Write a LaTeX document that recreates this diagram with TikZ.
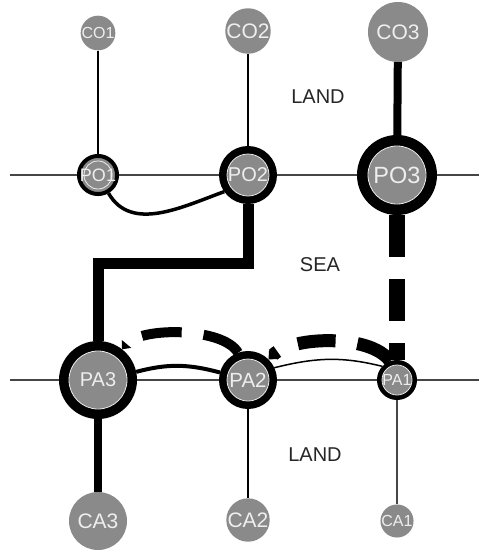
\documentclass[tikz,border=0pt]{standalone}
\usepackage{fontspec}
\setmainfont{Liberation Sans}
\usetikzlibrary{arrows.meta}
\definecolor{portgrey}{RGB}{138,138,138}
\definecolor{labelwhite}{RGB}{238,238,238}
\definecolor{axisgrey}{RGB}{70,70,70}
\newcommand\lblsize[1]{\fontsize{#1}{#1}\selectfont}
\begin{document}
\begin{tikzpicture}[x=1pt,y=-1pt,
  port/.style={circle, fill=portgrey, draw=black, inner sep=0pt, text=labelwhite},
  city/.style={circle, fill=portgrey, draw=none, inner sep=0pt, text=labelwhite},
  region/.style={text=black!85, font=\lblsize{20}},
  hline/.style={line width=1.5pt, draw=axisgrey},
  innerline/.style={line width=0.8pt, draw=white!85!portgrey},
  tip/.style={-{Triangle[length=7pt,width=12pt]}}
]
\useasboundingbox (0,0) rectangle (479,550);
% ports
\node[port, minimum size=32, line width=4pt, font=\lblsize{18}] (PO1) at (98,175) {PO1};
\node[port, minimum size=50, line width=8pt, font=\lblsize{20}] (PO2) at (248,175) {PO2};
\node[port, minimum size=69, line width=11pt, font=\lblsize{23.5}] (PO3) at (397,175) {PO3};
\node[port, minimum size=68, line width=10pt, font=\lblsize{20}] (PA3) at (98,380) {PA3};
\node[port, minimum size=50, line width=8pt, font=\lblsize{20.5}] (PA2) at (248,380) {PA2};
\node[port, minimum size=35, line width=5pt, font=\lblsize{16}] (PA1) at (397,380) {PA1};
\draw[innerline] (PO1) circle[radius=14pt];
\draw[innerline] (PO2) circle[radius=21pt];
\draw[innerline] (PO3) circle[radius=29pt];
\draw[innerline] (PA3) circle[radius=29pt];
\draw[innerline] (PA2) circle[radius=21pt];
\draw[innerline] (PA1) circle[radius=15pt];
% cities
\node[city, minimum size=30, font=\lblsize{16}] (CO1) at (98,33) {CO1};
\node[city, minimum size=42, font=\lblsize{21}] (CO2) at (248,31) {CO2};
\node[city, minimum size=60, font=\lblsize{21}] (CO3) at (398,32) {CO3};
\node[city, minimum size=58, font=\lblsize{21}] (CA3) at (98,521) {CA3};
\node[city, minimum size=40, font=\lblsize{21}] (CA2) at (248,520) {CA2};
\node[city, minimum size=32, font=\lblsize{16}] (CA1) at (397,521) {CA1};
% region labels
\node[region] (land1) at (318,97) {LAND};
\node[region] (sea) at (320,265) {SEA};
\node[region] (land2) at (315,455) {LAND};
% coast lines
\coordinate (TL) at (10,175);
\coordinate (TR) at (479,175);
\coordinate (BL) at (10,380);
\coordinate (BR) at (479,380);
\draw[hline] (TL) -- (PO1) -- (PO2) -- (PO3) -- (TR);
\draw[hline] (BL) -- (PA3) -- (PA2) -- (PA1) -- (BR);
% hinterland links
\draw[line width=2pt] (CO1) -- (PO1);
\draw[line width=2.5pt] (CO2) -- (PO2);
\draw[line width=8pt] (CO3) -- (PO3);
\draw[line width=8pt] (PA3) -- (CA3);
\draw[line width=2pt] (PA2) -- (CA2);
\draw[line width=1.5pt, draw=axisgrey] (PA1) -- (CA1);
% coastal links
\draw[line width=3.5pt] (PO1.-60) to[out=-60, in=200] (PO2.215);
\draw[line width=4pt] (PA3.12) to[out=15, in=165] (PA2.165);
\draw[line width=1.5pt] (PA2.25) to[out=14, in=166] (PA1.137);
% sea routes
\coordinate (bend) at (98,263);
\draw[line width=11pt, line join=miter] (PO2.south) |- (bend) -- (PA3.north);
\draw[line width=16pt, dash pattern=on 42pt off 22pt] (PO3.south) -- (PA1.north);
\draw[line width=13pt, dash pattern=on 38pt off 22pt, tip] (PA1.110) to[out=125, in=45, looseness=0.7] (PA2.45);
\draw[line width=10pt, dash pattern=on 40pt off 22pt, tip] (PA2.110) to[out=120, in=50, looseness=0.65] (PA3.52);
\end{tikzpicture}
\end{document}
